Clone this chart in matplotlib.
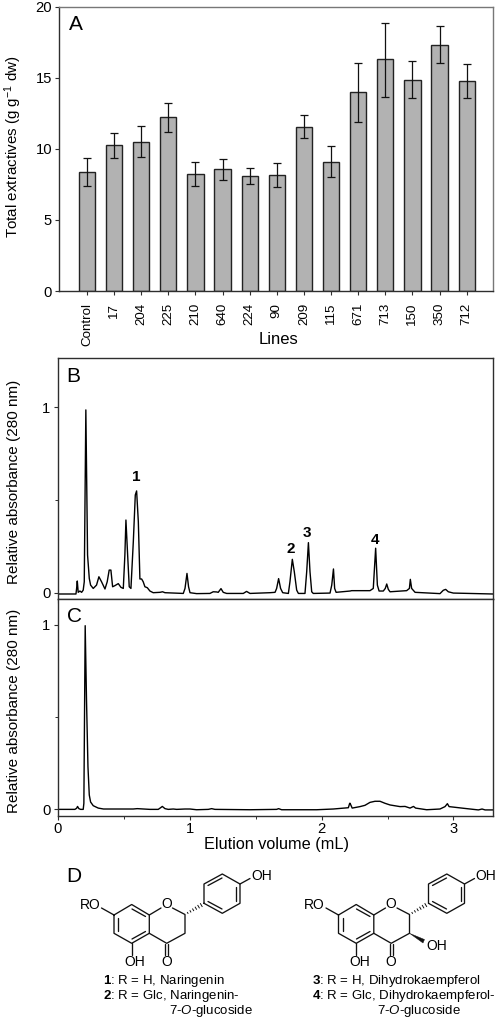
import matplotlib
matplotlib.use('Agg')
import matplotlib.pyplot as plt
from matplotlib.patches import Polygon

plt.rcParams['font.family'] = ['Liberation Sans', 'DejaVu Sans']
plt.rcParams['mathtext.fontset'] = 'custom'
plt.rcParams['mathtext.rm'] = 'Liberation Sans'
plt.rcParams['mathtext.it'] = 'Liberation Sans:italic'
plt.rcParams['mathtext.bf'] = 'Liberation Sans:bold'

# panel A
lines = ['Control', '17', '204', '225', '210', '640', '224', '90', '209', '115',
         '671', '713', '150', '350', '712']
extract = [8.35, 10.25, 10.5, 12.2, 8.25, 8.55, 8.05, 8.15, 11.55, 9.05, 14.0, 16.3, 14.85, 17.3, 14.75]
err_hi = [9.33, 11.1, 11.6, 13.2, 9.1, 9.3, 8.65, 9.0, 12.35, 10.2, 16.05, 18.85, 16.15, 18.6, 15.95]
err_lo = [7.35, 9.35, 9.4, 11.2, 7.4, 7.8, 7.5, 7.3, 10.75, 8.0, 11.9, 13.65, 13.55, 16.05, 13.55]

# panel B trace
b_vol = [0, .137, .142, .147, .154, .167, .180, .192, .200, .212, .225, .238, .248, .268, .293, .311, .331,
         .357, .374, .389, .402, .415, .432, .458, .478, .496, .508, .516, .529, .541, .554, .572, .587, .597,
         .610, .622, .635, .647, .660, .678, .698, .723, .774, .794, .812, .951, .964, .979, .991, 1.002,
         1.052, 1.153, 1.178, 1.204, 1.216, 1.237, 1.254, 1.280, 1.406, 1.431, 1.457, 1.609, 1.647, 1.659,
         1.674, 1.689, 1.705, 1.748, 1.760, 1.778, 1.793, 1.811, 1.824, 1.874, 1.887, 1.900, 1.912,
         1.925, 1.937, 2.064, 2.077, 2.090, 2.099, 2.110, 2.216, 2.228, 2.367, 2.392, 2.410, 2.423, 2.436,
         2.468, 2.483, 2.494, 2.506, 2.519, 2.645, 2.666, 2.673, 2.683, 2.709, 2.898, 2.923, 2.941, 2.961,
         2.999, 3.3]
b_abs = [-.007, -.007, .023, .063, .002, .009, .002, .014, .059, .986, .203, .077, .041, .023, .041, .086, .059,
         .020, .059, .122, .122, .032, .038, .049, .029, .023, .203, .392, .203, .032, .023, .275, .527, .549,
         .383, .074, .074, .059, .032, .027, .009, 0, .002, .005, 0, -.004, .023, .104, .032, 0,
         -.005, -.004, .005, .004, .002, .022, .002, -.004, -.004, .007, -.004, 0, .002, .023,
         .076, .023, 0, -.004, .059, .180, .113, .014, -.004, -.004, .113, .270, .113,
         .005, -.004, -.002, .041, .128, .023, .002, .009, .011, .011, .023, .240, .041, .009,
         .009, .023, .047, .018, .005, .011, .023, .072, .023, .002, -.005, .013, .018, .005,
         -.002, -.007]

# panel C trace
c_vol = [0, .129, .142, .149, .159, .172, .192, .197, .207, .217, .228, .238, .248, .268, .306, .346, .571, .602,
         .698, .761, .779, .792, .812, .837, .875, .901, .964, 1.002, 1.052, 1.141, 1.166, 1.191, 1.457, 1.659,
         1.674, 1.697, 1.963, 2.089, 2.203, 2.213, 2.216, 2.232, 2.291, 2.329, 2.367, 2.405, 2.443, 2.481, 2.519,
         2.595, 2.633, 2.671, 2.697, 2.713, 2.797, 2.898, 2.936, 2.954, 2.967, 3.076, 3.189, 3.217, 3.240, 3.3]
c_abs = [-.002, -.002, .004, .014, .002, -.002, -.002, .031, .996, .592, .230, .076, .038, .018, .005, 0, 0, .002,
         -.002, -.002, .007, .014, .002, -.002, 0, -.002, 0, 0, -.004, -.002, .002, -.002, -.004, -.002,
         .002, -.004, -.004, 0, .007, .031, .031, .005, .013, .020, .036, .042, .042, .031, .022,
         .013, .014, .005, .014, .005, -.004, 0, .013, .029, .013, .004, -.005, 0, -.005, -.005]

# labels for the marked peaks
peak_names = ['1', '2', '3', '4']
peak_vol = [.592, 1.768, 1.889, 2.405]
peak_lab = [.624, .236, .322, .284]

W, H = 498, 1019
dark = '#2e2e2e'
fig = plt.figure(figsize=(W / 100, H / 100), dpi=100)


def box(l, t, r, b):
    return [l / W, 1 - b / H, (r - l) / W, (b - t) / H]


def style(ax):
    for s in ax.spines.values():
        s.set_color(dark)
        s.set_linewidth(1.0)
    ax.tick_params(which='major', direction='out', length=3, width=.8, color=dark, labelsize=10.6, pad=2)
    ax.tick_params(which='minor', direction='out', length=2.2, width=.7, color=dark)


# A
ax = fig.add_axes(box(59, 6.5, 493, 291))
style(ax)
low = [v - e for v, e in zip(extract, err_lo)]
high = [e - v for v, e in zip(extract, err_hi)]
ax.bar(range(15), extract, width=.6, color='#b2b2b2', edgecolor='#222222', linewidth=1.0)
ax.errorbar(range(15), extract, yerr=[low, high], fmt='none', ecolor='#111111', elinewidth=.9,
            capsize=3, capthick=.9)
ax.set_xlim(-1.03, 14.97)
ax.set_ylim(0, 20)
ax.set_yticks([0, 5, 10, 15, 20])
ax.set_xticks(range(15))
ax.set_xticklabels(lines, rotation=90, fontsize=9.6)
ax.tick_params(axis='x', pad=5.5)
for s in ['top', 'right']:
    ax.spines[s].set_color('#777777')

# B
ax2 = fig.add_axes(box(57.5, 358, 493, 599))
style(ax2)
ax2.plot(b_vol, b_abs, color='black', lw=1.0)
ax2.set_xlim(-.003, 3.3)
ax2.set_ylim(-.034, 1.266)
ax2.set_yticks([0, 1])
ax2.set_yticks([.5], minor=True)
ax2.set_xticks([0, 1, 2, 3])
ax2.set_xticks([.5, 1.5, 2.5], minor=True)
ax2.set_xticklabels([])
for name, v, a in zip(peak_names, peak_vol, peak_lab):
    ax2.text(v, a, name, fontsize=11, fontweight='bold', ha='center', va='center')

# C
ax3 = fig.add_axes(box(57.5, 599, 493, 816))
style(ax3)
ax3.plot(c_vol, c_abs, color='black', lw=1.0)
ax3.set_xlim(-.003, 3.3)
ax3.set_ylim(-.038, 1.141)
ax3.set_yticks([0, 1])
ax3.set_yticks([.5], minor=True)
ax3.set_xticks([0, 1, 2, 3])
ax3.set_xticks([.5, 1.5, 2.5], minor=True)
ax3.tick_params(axis='x', pad=1)

# page-level layer in pixels for captions and the structures
pg = fig.add_axes([0, 0, 1, 1], zorder=5)
pg.set_xlim(0, W)
pg.set_ylim(H, 0)
pg.axis('off')

for s, x, y in [('A', 75.5, 24), ('B', 73, 376), ('C', 75, 616), ('D', 74, 877)]:
    pg.text(x, y, s, fontsize=15, ha='center', va='center')
pg.text(278, 340, 'Lines', fontsize=12, ha='center', va='center')
pg.text(276, 845, 'Elution volume (mL)', fontsize=11.7, ha='center', va='center')
pg.text(13, 147, r'Total extractives (g g$^{-1}$ dw)', fontsize=10.9, rotation=90, ha='center', va='center')
pg.text(14, 482, 'Relative absorbance (280 nm)', fontsize=11, rotation=90, ha='center', va='center')
pg.text(14, 711, 'Relative absorbance (280 nm)', fontsize=11, rotation=90, ha='center', va='center')


def bond(x0, y0, pts, **kw):
    pg.plot([x0 + p[0] for p in pts], [y0 + p[1] for p in pts], color='#111111', lw=.95,
            solid_capstyle='round', **kw)


def structure(dx, dy, hydroxy):
    # skeleton, from the left structure's pixel positions
    bond(dx, dy, [(101.5, 908), (114, 915), (131.7, 904.5), (149.3, 915), (149.3, 933.3), (131.7, 943.3),
                  (114, 933.3), (114, 915)])
    bond(dx, dy, [(149.3, 915), (161, 908)])
    bond(dx, dy, [(172.5, 908), (185, 914.5), (185, 933.3), (166.7, 943.3), (149.3, 933.3)])
    bond(dx, dy, [(118, 918), (118, 930.5)])
    bond(dx, dy, [(132, 909), (145.5, 916.5)])
    bond(dx, dy, [(132, 939), (145.5, 931.5)])
    bond(dx, dy, [(131.7, 943.3), (131.7, 955)])
    bond(dx, dy, [(165.2, 943.5), (165.2, 955)])
    bond(dx, dy, [(168.2, 943.5), (168.2, 955)])
    bond(dx, dy, [(204, 903.3), (204, 884), (222.3, 874), (240, 884), (240, 903.3), (222.3, 913.3), (204, 903.3)])
    bond(dx, dy, [(208, 885.5), (222, 878)])
    bond(dx, dy, [(236, 887), (236, 900.5)])
    bond(dx, dy, [(208, 901.5), (222, 909)])
    bond(dx, dy, [(240, 884), (250, 878.5)])
    # hashed bond to the B ring
    for i in range(1, 7):
        f = i / 7
        xx = dx + 185 + 19 * f
        yy = dy + 914.5 - 11 * f
        w = .3 + 1.6 * f
        pg.plot([xx - w * .5, xx + w * .5], [yy - w * .85, yy + w * .85], color='#111111', lw=.7)
    pg.text(dx + 90, dy + 905, 'RO', fontsize=10, ha='center', va='center')
    pg.text(dx + 166.7, dy + 904.5, 'O', fontsize=10, ha='center', va='center')
    pg.text(dx + 135, dy + 962, 'OH', fontsize=10, ha='center', va='center')
    pg.text(dx + 166.7, dy + 962, 'O', fontsize=10, ha='center', va='center')
    pg.text(dx + 261.5, dy + 876.5, 'OH', fontsize=10, ha='center', va='center')
    if hydroxy:
        pg.add_patch(Polygon([(dx + 185, dy + 933.3), (dx + 200, dy + 939.5), (dx + 198.5, dy + 943)],
                             closed=True, color='#111111', lw=.3))
        pg.text(dx + 212, dy + 946.5, 'OH', fontsize=10, ha='center', va='center')


structure(0, 0, False)
structure(224.5, 0, True)

cap = 9.5
pg.text(103, 981, r'$\mathbf{1}$: R = H, Naringenin', fontsize=cap, va='center')
pg.text(103, 996, r'$\mathbf{2}$: R = Glc, Naringenin-', fontsize=cap, va='center')
pg.text(169, 1011, r'7-$\mathit{O}$-glucoside', fontsize=cap, va='center')
pg.text(311.5, 981, r'$\mathbf{3}$: R = H, Dihydrokaempferol', fontsize=cap, va='center')
pg.text(311.5, 996, r'$\mathbf{4}$: R = Glc, Dihydrokaempferol-', fontsize=cap, va='center')
pg.text(377, 1011, r'7-$\mathit{O}$-glucoside', fontsize=cap, va='center')

fig.savefig('out.png', dpi=100)
